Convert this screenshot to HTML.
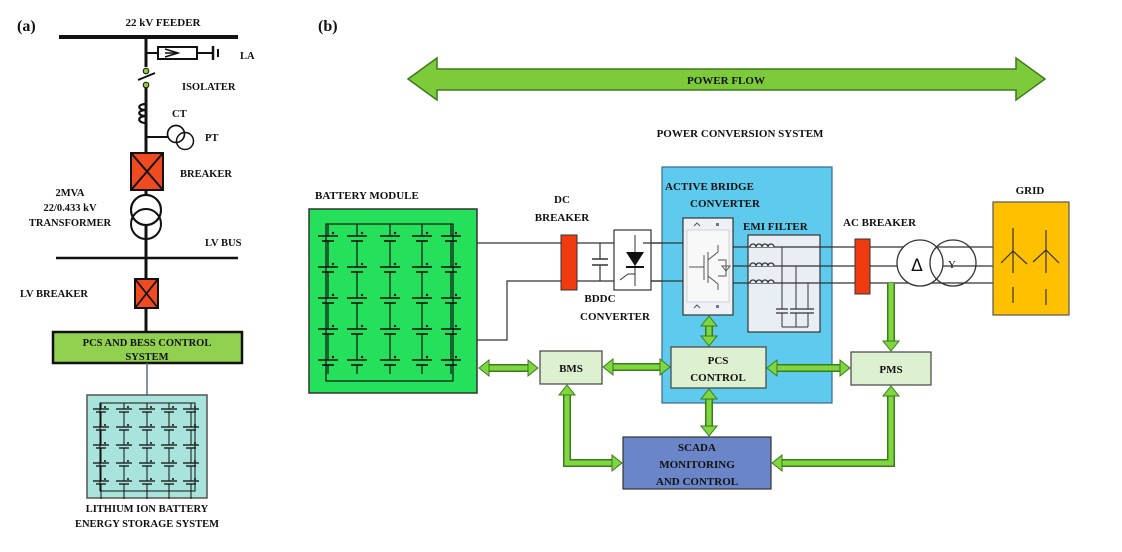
<!DOCTYPE html>
<html><head><meta charset="utf-8"><style>
html,body{margin:0;padding:0;background:#fff}
svg{display:block}
text{font-family:"Liberation Serif",serif;font-weight:bold;fill:#111}
</style></head><body>
<svg width="1122" height="552" viewBox="0 0 1122 552" xmlns="http://www.w3.org/2000/svg">
<defs>
<g id="cell">
  <line x1="-10" y1="0" x2="10" y2="0" stroke="#111" stroke-width="1.6"/>
  <line x1="-6" y1="5" x2="6" y2="5" stroke="#111" stroke-width="1.6"/>
  <line x1="0" y1="5" x2="0" y2="14" stroke="#111" stroke-width="1.2"/>
  <circle cx="5" cy="-3" r="1.2" fill="#111"/>
</g>
<g id="col">
  <use href="#cell" y="0"/><use href="#cell" y="31"/><use href="#cell" y="62"/><use href="#cell" y="93"/><use href="#cell" y="124"/>
  <line x1="0" y1="-12" x2="0" y2="0" stroke="#111" stroke-width="1.2"/>
  <line x1="0" y1="14" x2="0" y2="31" stroke="#111" stroke-width="1.2"/>
  <line x1="0" y1="45" x2="0" y2="62" stroke="#111" stroke-width="1.2"/>
  <line x1="0" y1="76" x2="0" y2="93" stroke="#111" stroke-width="1.2"/>
  <line x1="0" y1="107" x2="0" y2="124" stroke="#111" stroke-width="1.2"/>
</g>
<g id="scell">
  <line x1="-8" y1="0" x2="8" y2="0" stroke="#111" stroke-width="1.3"/>
  <line x1="-5" y1="3" x2="5" y2="3" stroke="#111" stroke-width="1.3"/>
  <line x1="0" y1="3" x2="0" y2="18" stroke="#111" stroke-width="1"/>
  <circle cx="4" cy="-2" r="1" fill="#111"/>
</g>
<g id="scol">
  <use href="#scell" y="0"/><use href="#scell" y="18"/><use href="#scell" y="36"/><use href="#scell" y="54"/><use href="#scell" y="72"/>
  <line x1="0" y1="-6" x2="0" y2="0" stroke="#111" stroke-width="1"/>
</g>
</defs>

<!-- ===== Panel (a) ===== -->
<text x="17" y="31" font-size="16">(a)</text>
<text x="163" y="26" font-size="11" text-anchor="middle">22 kV FEEDER</text>
<line x1="59" y1="37" x2="238" y2="37" stroke="#111" stroke-width="4"/>
<line x1="146" y1="37" x2="146" y2="67" stroke="#111" stroke-width="3"/>
<!-- LA -->
<line x1="146" y1="53" x2="158" y2="53" stroke="#111" stroke-width="2"/>
<rect x="158" y="47" width="39" height="12" fill="#fff" stroke="#111" stroke-width="2"/>
<path d="M165 49 L178 53 L165 57" fill="none" stroke="#111" stroke-width="1.5"/>
<line x1="165" y1="53" x2="178" y2="53" stroke="#111" stroke-width="1.5"/>
<line x1="197" y1="53" x2="213" y2="53" stroke="#111" stroke-width="2"/>
<line x1="213" y1="46" x2="213" y2="60" stroke="#111" stroke-width="2.5"/>
<line x1="218" y1="49" x2="218" y2="57" stroke="#111" stroke-width="2"/>
<text x="240" y="59" font-size="10.5">LA</text>
<!-- isolater -->
<circle cx="146" cy="71" r="2.8" fill="#8CD040" stroke="#111" stroke-width="1"/>
<line x1="138" y1="80" x2="155" y2="73" stroke="#111" stroke-width="2"/>
<circle cx="146" cy="85" r="2.8" fill="#8CD040" stroke="#111" stroke-width="1"/>
<text x="182" y="90" font-size="10.5">ISOLATER</text>
<line x1="146" y1="88" x2="146" y2="104" stroke="#111" stroke-width="3"/>
<!-- CT -->
<path d="M146 104 C137 104 137 110 146 110 C137 110 137 116 146 116 C137 116 137 123 146 123" fill="none" stroke="#111" stroke-width="2.2"/>
<line x1="146" y1="104" x2="146" y2="332" stroke="#111" stroke-width="3"/>
<text x="172" y="117" font-size="10.5">CT</text>
<!-- PT -->
<line x1="146" y1="137" x2="168" y2="137" stroke="#111" stroke-width="2"/>
<circle cx="176" cy="134" r="8.5" fill="#fff" stroke="#111" stroke-width="1.5"/>
<circle cx="185" cy="141" r="8.5" fill="none" stroke="#111" stroke-width="1.5"/>
<circle cx="176" cy="134" r="8.5" fill="none" stroke="#111" stroke-width="1.5"/>
<text x="205" y="141" font-size="10.5">PT</text>
<!-- breaker -->
<rect x="131" y="153" width="32" height="37" fill="#F04A20" stroke="#111" stroke-width="2"/>
<line x1="131" y1="153" x2="163" y2="190" stroke="#111" stroke-width="2"/>
<line x1="163" y1="153" x2="131" y2="190" stroke="#111" stroke-width="2"/>
<text x="180" y="177" font-size="10.5">BREAKER</text>
<!-- transformer -->
<circle cx="146" cy="210" r="15" fill="#fff" stroke="#111" stroke-width="2"/>
<circle cx="146" cy="224" r="15" fill="none" stroke="#111" stroke-width="2"/>
<circle cx="146" cy="210" r="15" fill="none" stroke="#111" stroke-width="2"/>
<text x="70" y="196" font-size="10.5" text-anchor="middle">2MVA</text>
<text x="70" y="211" font-size="10.5" text-anchor="middle">22/0.433 kV</text>
<text x="70" y="226" font-size="10.5" text-anchor="middle">TRANSFORMER</text>
<text x="205" y="246" font-size="10.5">LV BUS</text>
<line x1="56" y1="258" x2="238" y2="258" stroke="#111" stroke-width="2.5"/>
<!-- LV breaker -->
<rect x="135" y="279" width="23" height="29" fill="#F04A20" stroke="#111" stroke-width="2"/>
<line x1="135" y1="279" x2="158" y2="308" stroke="#111" stroke-width="1.8"/>
<line x1="158" y1="279" x2="135" y2="308" stroke="#111" stroke-width="1.8"/>
<text x="20" y="297" font-size="10.5">LV BREAKER</text>
<!-- PCS box -->
<rect x="53" y="332" width="189" height="31" fill="#92D050" stroke="#111" stroke-width="2.5"/>
<text x="147" y="346" font-size="10.5" text-anchor="middle">PCS AND BESS CONTROL</text>
<text x="147" y="360" font-size="10.5" text-anchor="middle">SYSTEM</text>
<line x1="147" y1="363" x2="147" y2="395" stroke="#5a6a8a" stroke-width="1.5"/>
<!-- battery a -->
<rect x="87" y="395" width="120" height="103" fill="#A8E4DC" stroke="#555" stroke-width="1.5"/>
<rect x="100" y="403" width="95" height="88" fill="none" stroke="#111" stroke-width="1"/>
<use href="#scol" x="101" y="409"/><use href="#scol" x="124" y="409"/><use href="#scol" x="147" y="409"/><use href="#scol" x="169" y="409"/><use href="#scol" x="191" y="409"/>
<text x="147" y="512" font-size="10.5" text-anchor="middle">LITHIUM ION BATTERY</text>
<text x="147" y="527" font-size="10.5" text-anchor="middle">ENERGY STORAGE SYSTEM</text>

<!-- ===== Panel (b) ===== -->
<text x="318" y="31" font-size="16">(b)</text>
<polygon points="408,79 437,58 437,69 1016,69 1016,58 1045,79 1016,100 1016,90 437,90 437,100" fill="#7DCB3A" stroke="#3D7A1A" stroke-width="1.5"/>
<text x="726" y="84" font-size="11" text-anchor="middle">POWER FLOW</text>
<text x="740" y="137" font-size="11" text-anchor="middle">POWER CONVERSION SYSTEM</text>

<!-- battery module -->
<text x="315" y="199" font-size="11">BATTERY MODULE</text>
<rect x="309" y="209" width="168" height="184" fill="#25E05A" stroke="#333" stroke-width="1.5"/>
<rect x="326" y="224" width="127" height="157" fill="none" stroke="#111" stroke-width="1.2"/>
<use href="#col" x="328" y="236"/><use href="#col" x="357" y="236"/><use href="#col" x="390" y="236"/><use href="#col" x="422" y="236"/><use href="#col" x="451" y="236"/>

<!-- DC lines -->
<line x1="477" y1="243" x2="683" y2="243" stroke="#333" stroke-width="1.2"/>
<polyline points="477,340 507,340 507,281 683,281" fill="none" stroke="#333" stroke-width="1.2"/>
<line x1="600" y1="243" x2="600" y2="259" stroke="#333" stroke-width="1.2"/>
<line x1="600" y1="265" x2="600" y2="281" stroke="#333" stroke-width="1.2"/>
<line x1="592" y1="259" x2="608" y2="259" stroke="#333" stroke-width="1.5"/>
<line x1="592" y1="265" x2="608" y2="265" stroke="#333" stroke-width="1.5"/>
<rect x="561" y="235" width="16" height="55" fill="#F03A10" stroke="#333" stroke-width="1"/>
<text x="562" y="203" font-size="11" text-anchor="middle">DC</text>
<text x="562" y="221" font-size="11" text-anchor="middle">BREAKER</text>
<rect x="614" y="230" width="37" height="60" fill="#fff" stroke="#333" stroke-width="1.2"/>
<line x1="635" y1="235" x2="635" y2="286" stroke="#333" stroke-width="1"/>
<polygon points="626,252 644,252 635,266" fill="#111"/>
<line x1="626" y1="267" x2="644" y2="267" stroke="#111" stroke-width="2"/>
<polyline points="620,280 628,274 635,274" fill="none" stroke="#333" stroke-width="1"/>
<text x="600" y="302" font-size="11" text-anchor="middle">BDDC</text>
<text x="615" y="320" font-size="11" text-anchor="middle">CONVERTER</text>

<!-- PCS blue box -->
<rect x="662" y="167" width="170" height="236" fill="#5ECBEE" stroke="#3a6a8a" stroke-width="1.2"/>
<text x="665" y="190" font-size="11">ACTIVE BRIDGE</text>
<text x="725" y="207" font-size="11" text-anchor="middle">CONVERTER</text>
<rect x="683" y="218" width="50" height="97" fill="#EEF2F6" stroke="#333" stroke-width="1.2"/>
<rect x="687" y="230" width="42" height="72" fill="#F8F8F8" stroke="#bbb" stroke-width="0.6"/>
<line x1="643" y1="243" x2="683" y2="243" stroke="#333" stroke-width="1.2"/>
<line x1="651" y1="281" x2="683" y2="281" stroke="#333" stroke-width="1.2"/>
<path d="M689 267 L704 267 M704 255 L704 280 M708 252 L708 283 M708 260 L718 252 L718 245 M708 276 L718 284 L718 290 M718 260 L726 260 L726 276 L718 276" fill="none" stroke="#555" stroke-width="1"/>
<polygon points="722,266 730,266 726,271" fill="none" stroke="#555" stroke-width="1"/>
<path d="M694 226 L697 223 L700 226 M694 308 L697 305 L700 308" fill="none" stroke="#555" stroke-width="1"/>
<rect x="716" y="223" width="3" height="3" fill="#777"/><rect x="716" y="305" width="3" height="3" fill="#777"/>
<text x="743" y="230" font-size="11">EMI FILTER</text>
<rect x="748" y="235" width="72" height="97" fill="#E8EEF4" stroke="#333" stroke-width="1.2"/>
<line x1="733" y1="247" x2="993" y2="247" stroke="#333" stroke-width="1.2"/>
<line x1="733" y1="266" x2="993" y2="266" stroke="#333" stroke-width="1.2"/>
<line x1="733" y1="283" x2="993" y2="283" stroke="#333" stroke-width="1.2"/>
<path d="M750 247 a3 3 0 0 1 6 0 a3 3 0 0 1 6 0 a3 3 0 0 1 6 0 a3 3 0 0 1 6 0" fill="#E8EEF4" stroke="#333" stroke-width="1.3"/>
<path d="M750 266 a3 3 0 0 1 6 0 a3 3 0 0 1 6 0 a3 3 0 0 1 6 0 a3 3 0 0 1 6 0" fill="#E8EEF4" stroke="#333" stroke-width="1.3"/>
<path d="M750 283 a3 3 0 0 1 6 0 a3 3 0 0 1 6 0 a3 3 0 0 1 6 0 a3 3 0 0 1 6 0" fill="#E8EEF4" stroke="#333" stroke-width="1.3"/>
<path d="M782 247 L782 309 M782 313 L782 327 M796 266 L796 309 M796 313 L796 327 M808 283 L808 309 M808 313 L808 327 M782 327 L808 327" fill="none" stroke="#333" stroke-width="1"/>
<path d="M776 309 L788 309 M776 313 L788 313 M790 309 L802 309 M790 313 L802 313 M802 309 L814 309 M802 313 L814 313" stroke="#333" stroke-width="1.2"/>
<rect x="855" y="239" width="15" height="55" fill="#F03A10" stroke="#333" stroke-width="1"/>
<text x="843" y="226" font-size="11">AC BREAKER</text>
<circle cx="920" cy="263" r="23" fill="#fff" stroke="#333" stroke-width="1.3"/>
<circle cx="953" cy="263" r="23" fill="none" stroke="#333" stroke-width="1.3"/>
<text x="917" y="271" font-size="17" text-anchor="middle" style="font-family:'DejaVu Sans',sans-serif;font-weight:normal">Δ</text>
<text x="952" y="268" font-size="11" text-anchor="middle" style="font-weight:normal">Y</text>
<text x="1030" y="194" font-size="11" text-anchor="middle">GRID</text>
<rect x="993" y="202" width="76" height="113" fill="#FFC000" stroke="#555" stroke-width="1.2"/>
<path d="M1013 228 L1013 273 M1001 263 L1013 251 L1027 264 M1013 287 L1013 303 M1046 230 L1046 273 M1033 262 L1046 250 L1059 263 M1046 289 L1046 305" fill="none" stroke="#333" stroke-width="1.2"/>

<!-- control boxes -->
<rect x="540" y="351" width="62" height="33" fill="#DDF0D0" stroke="#444" stroke-width="1.2"/>
<text x="571" y="372" font-size="11" text-anchor="middle">BMS</text>
<rect x="671" y="347" width="95" height="41" fill="#DDF0D0" stroke="#444" stroke-width="1.2"/>
<text x="718" y="364" font-size="11" text-anchor="middle">PCS</text>
<text x="718" y="381" font-size="11" text-anchor="middle">CONTROL</text>
<rect x="851" y="352" width="80" height="33" fill="#DDF0D0" stroke="#444" stroke-width="1.2"/>
<text x="891" y="373" font-size="11" text-anchor="middle">PMS</text>
<rect x="623" y="437" width="148" height="52" fill="#6A86C8" stroke="#333" stroke-width="1.2"/>
<text x="697" y="451" font-size="11" text-anchor="middle">SCADA</text>
<text x="697" y="468" font-size="11" text-anchor="middle">MONITORING</text>
<text x="697" y="485" font-size="11" text-anchor="middle">AND CONTROL</text>

<g fill="none" stroke-linejoin="miter">
  <g stroke="#3D7A1A" stroke-width="8">
    <line x1="487" y1="368" x2="530" y2="368"/>
    <line x1="612" y1="367" x2="661" y2="367"/>
    <line x1="776" y1="368" x2="841" y2="368"/>
    <line x1="709" y1="325" x2="709" y2="337"/>
    <line x1="709" y1="398" x2="709" y2="427"/>
    <polyline points="567,394 567,463 613,463"/>
    <polyline points="891,395 891,463 781,463"/>
    <line x1="891" y1="283" x2="891" y2="342"/>
  </g>
  <g stroke="#7ED640" stroke-width="5">
    <line x1="487" y1="368" x2="530" y2="368"/>
    <line x1="612" y1="367" x2="661" y2="367"/>
    <line x1="776" y1="368" x2="841" y2="368"/>
    <line x1="709" y1="323" x2="709" y2="339"/>
    <line x1="709" y1="396" x2="709" y2="429"/>
    <polyline points="567,394 567,463 613,463"/>
    <polyline points="891,395 891,463 781,463"/>
    <line x1="891" y1="283" x2="891" y2="342"/>
  </g>
</g>
<g fill="#7ED640" stroke="#3D7A1A" stroke-width="1">
  <polygon points="479,368 489,360 489,376"/><polygon points="538,368 528,360 528,376"/>
  <polygon points="603,367 613,359 613,375"/><polygon points="670,367 660,359 660,375"/>
  <polygon points="767,368 777,360 777,376"/><polygon points="850,368 840,360 840,376"/>
  <polygon points="709,316 701,326 717,326"/><polygon points="709,346 701,336 717,336"/>
  <polygon points="709,389 701,399 717,399"/><polygon points="709,436 701,426 717,426"/>
  <polygon points="567,385 559,395 575,395"/><polygon points="622,463 612,455 612,471"/>
  <polygon points="891,386 883,396 899,396"/><polygon points="772,463 782,455 782,471"/>
  <polygon points="891,351 883,341 899,341"/>
</g>
</svg>
</body></html>
